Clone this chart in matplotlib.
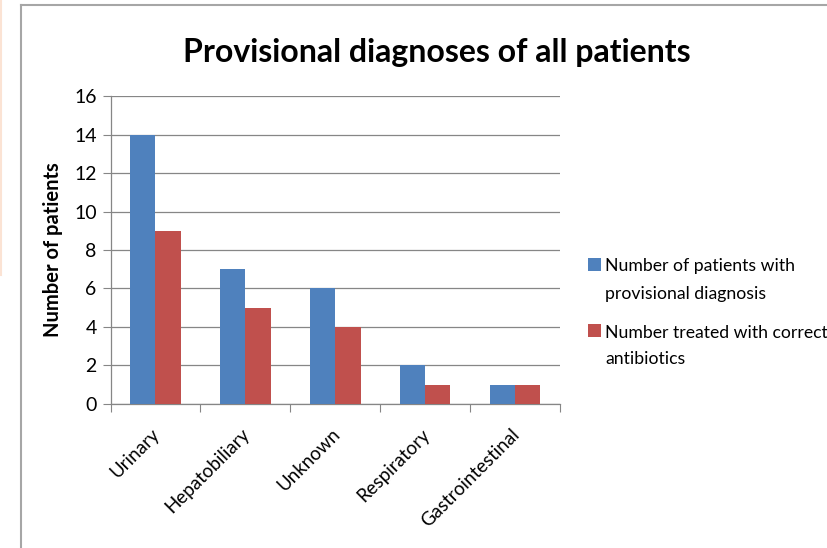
import matplotlib
matplotlib.use('Agg')
from matplotlib import pyplot as plt
from matplotlib.lines import Line2D
from matplotlib.patches import Rectangle
import numpy as np

# data
categories = ['Urinary', 'Hepatobiliary', 'Unknown', 'Respiratory', 'Gastrointestinal']
provisional = [14, 7, 6, 2, 1]
correct_abx = [9, 5, 4, 1, 1]
series_names = ['Number of patients with\nprovisional diagnosis',
                'Number treated with correct\nantibiotics']
yticks = [0, 2, 4, 6, 8, 10, 12, 14, 16]

blue = '#4F81BD'
red = '#C0504D'
axis_grey = '#868686'

plt.rcParams['font.family'] = ['Lato', 'DejaVu Sans']

W, H = 828, 548
fig = plt.figure(figsize=(W / 100, H / 100), dpi=100)
ax = fig.add_axes([0.1335, 0.2628, 0.5430, 0.5620])

x = np.arange(len(categories))
w = 0.28
ax.bar(x - w / 2, provisional, w, color=blue, zorder=3)
ax.bar(x + w / 2, correct_abx, w, color=red, zorder=3)

ax.set_xlim(-0.5, len(categories) - 0.5)
ax.set_ylim(0, 16)
ax.set_yticks(yticks)
ax.yaxis.grid(True, color=axis_grey, linewidth=0.9, zorder=0)
ax.tick_params(axis='y', direction='out', length=6, color=axis_grey, labelsize=14, pad=4)

# category ticks sit on the boundaries, labels at the centres
ax.set_xticks(np.arange(len(categories) + 1) - 0.5)
ax.set_xticklabels([])
ax.tick_params(axis='x', direction='out', length=6, color=axis_grey)
for i, c in enumerate(categories):
    ax.annotate(c, xy=(i, 0), xycoords=('data', 'axes fraction'),
                xytext=(-3, -15.5), textcoords='offset points',
                rotation=45, ha='right', va='top', fontsize=13.5,
                rotation_mode='anchor')

for side in ['top', 'right']:
    ax.spines[side].set_visible(False)
for side in ['left', 'bottom']:
    ax.spines[side].set_color(axis_grey)
    ax.spines[side].set_linewidth(0.9)

ax.set_ylabel('Number of patients', fontsize=14.5, fontweight='bold', labelpad=8)

fig.text(0.528, 0.905, 'Provisional diagnoses of all patients',
         ha='center', va='center', fontsize=23, fontweight='bold')

# legend drawn by hand: square lines up with the first text line, like Excel
entry_y = [265, 331]
for name, col, ey in zip(series_names, [blue, red], entry_y):
    fig.add_artist(Rectangle((588 / W, 1 - (ey + 6) / H), 13 / W, 13 / H,
                             facecolor=col, edgecolor='none'))
    for j, line in enumerate(name.split('\n')):
        fig.text(605 / W, 1 - (ey + 27 * j) / H, line, ha='left',
                 va='center_baseline', fontsize=12.7)

# chart frame and the faint line at the left edge
fig.add_artist(Line2D([21 / W, 21 / W], [0, 1 - 5 / H], color='#A6A6A6', linewidth=1.5))
fig.add_artist(Line2D([21 / W, 1], [1 - 5 / H, 1 - 5 / H], color='#A6A6A6', linewidth=1.5))
fig.add_artist(Line2D([1.5 / W, 1.5 / W], [1 - 275 / H, 1], color='#FBE3D4', linewidth=1.5))

plt.savefig('out.png', dpi=100)
